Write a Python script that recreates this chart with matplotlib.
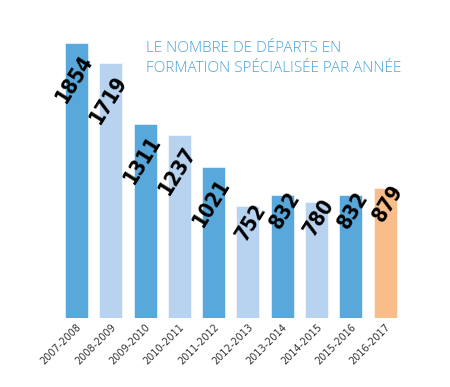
import matplotlib
matplotlib.use("Agg")
import matplotlib.pyplot as plt
import numpy as np

years = ["2007-2008", "2008-2009", "2009-2010", "2010-2011", "2011-2012",
         "2012-2013", "2013-2014", "2014-2015", "2015-2016", "2016-2017"]
departs = [1854, 1719, 1311, 1237, 1021, 752, 832, 780, 832, 879]

dark = "#58a8dc"
light = "#b8d3f0"
orange = "#f8bd88"
colors = [dark if i % 2 == 0 else light for i in range(len(years))]
colors[-1] = orange

fig = plt.figure(figsize=(4.5, 3.87), dpi=100)
ax = fig.add_axes([0.1318, 0.1783, 0.7622, 0.7664])

x = np.arange(len(years))
ax.bar(x, departs, width=0.67, color=colors, edgecolor="white", linewidth=0.4)
ax.set_xlim(-0.5, len(years) - 0.5)
ax.set_ylim(0, 2000)

for xi, v in zip(x, departs):
    label = str(v)
    # longer labels sit a bit lower under the bar top
    if len(label) == 3:
        dx, dy = 2, -11
    else:
        dx, dy = -1.5, -26
    ax.annotate(label, (xi, v), xytext=(dx, dy), textcoords="offset points",
                ha="center", va="center", rotation=58,
                family="DejaVu Sans", fontstretch="condensed",
                fontweight="bold", fontsize=15, color="black")

ax.set_xticks(x)
ax.set_xticklabels(years, rotation=45, ha="right", rotation_mode="anchor",
                   fontsize=7, color="#333333")
ax.tick_params(axis="x", length=0, pad=3)
ax.set_yticks([])
for s in ax.spines.values():
    s.set_visible(False)

fig.text(0.325, 0.85, "LE NOMBRE DE DÉPARTS EN\nFORMATION SPÉCIALISÉE PAR ANNÉE",
         fontsize=11, color="#4aa3da", family="Open Sans", fontweight="light",
         va="center", ha="left", linespacing=1.45)

fig.savefig("out.png", dpi=100)
